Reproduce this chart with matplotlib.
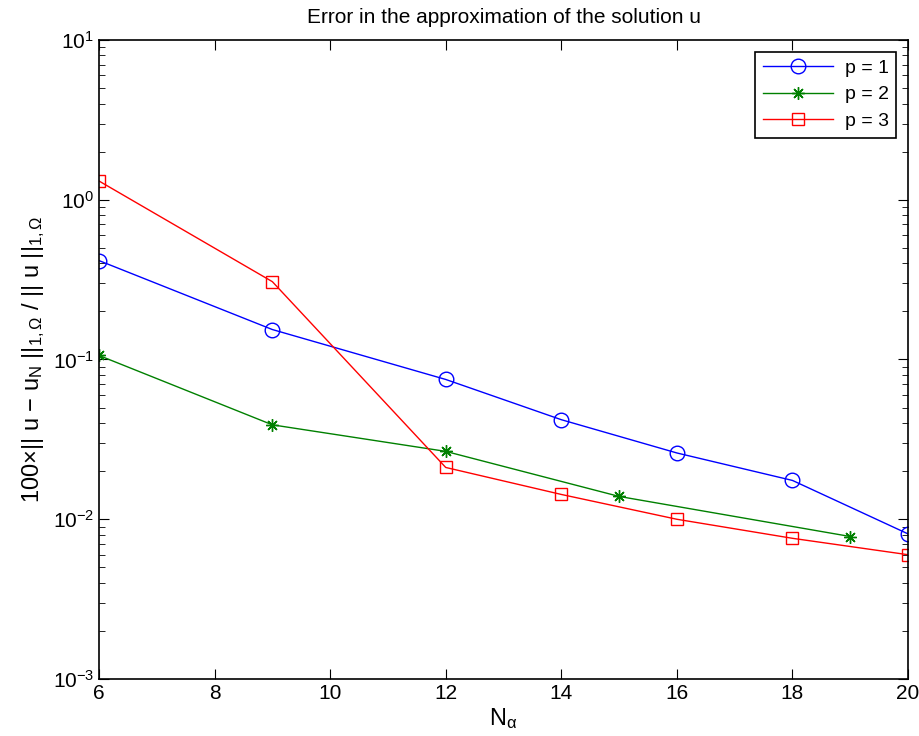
import numpy as np
import matplotlib
matplotlib.use("Agg")
import matplotlib.pyplot as plt

plt.rcParams["font.family"] = ["Liberation Sans", "DejaVu Sans"]
plt.rcParams["mathtext.fontset"] = "custom"
plt.rcParams["mathtext.rm"] = "Liberation Sans"
plt.rcParams["mathtext.it"] = "Liberation Sans"
plt.rcParams["mathtext.sf"] = "Liberation Sans"

# dados
n_p1 = [6, 9, 12, 14, 16, 18, 20]
err_p1 = [0.416, 0.154, 0.075, 0.042, 0.026, 0.0175, 0.0081]

n_p2 = [6, 9, 12, 15, 19]
err_p2 = [0.106, 0.039, 0.0266, 0.0139, 0.0078]

n_p3 = [6, 9, 12, 14, 16, 18, 20]
err_p3 = [1.31, 0.307, 0.0211, 0.0143, 0.0100, 0.0076, 0.0060]

labels = ["p = 1", "p = 2", "p = 3"]

fig = plt.figure(figsize=(9.2, 7.36), dpi=100)
ax = fig.add_axes([0.1076, 0.0774, 0.8794, 0.8683])

ax.semilogy(n_p1, err_p1, color="blue", marker="o", markersize=10.5,
            markerfacecolor="none", linewidth=1, label=labels[0])
ax.semilogy(n_p2, err_p2, color="green", marker=(8, 2, 0), markersize=9,
            markeredgewidth=1.0, linewidth=1, label=labels[1])
ax.semilogy(n_p3, err_p3, color="red", marker="s", markersize=9,
            markerfacecolor="none", linewidth=1, label=labels[2])

ax.set_xlim(6, 20)
ax.set_ylim(1e-3, 1e1)
ax.set_xticks([6, 8, 10, 12, 14, 16, 18, 20])
ax.tick_params(which="both", direction="in", top=True, right=True, labelsize=15)
ax.tick_params(which="major", length=7)
ax.tick_params(which="minor", length=4)
for s in ax.spines.values():
    s.set_linewidth(1.2)

ax.set_title("Error in the approximation of the solution u", fontsize=15, pad=12)
ax.set_xlabel(r"N$_\alpha$", fontsize=17, labelpad=2)
ax.set_ylabel(r"100$\times$|| u $-$ u$_N$ ||$_{1,\Omega}$ / || u ||$_{1,\Omega}$",
              fontsize=17, labelpad=4)

leg = ax.legend(loc="upper right", fontsize=14, fancybox=False, framealpha=1,
                edgecolor="black", borderaxespad=0.6, handlelength=3.6,
                borderpad=0.4, labelspacing=0.45, handletextpad=0.6)
leg.get_frame().set_linewidth(1.2)

fig.savefig("out.png", dpi=100)
